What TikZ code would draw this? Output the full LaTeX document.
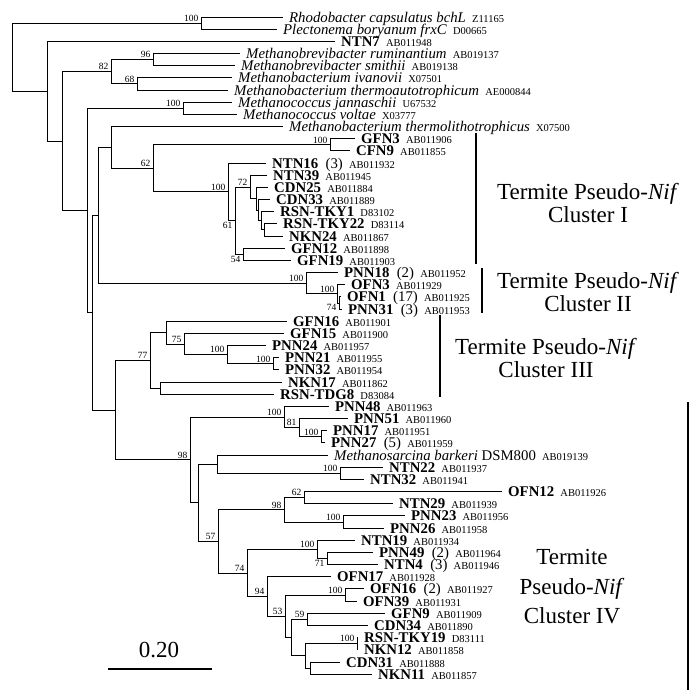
\documentclass[tikz,border=0pt]{standalone}
\usepackage{fontspec}
\setmainfont{Liberation Serif}
\usepackage{tikz}

\newcommand{\acc}[1]{\hspace{0.42em}{\fontsize{10.5}{11}\selectfont#1}}
\newcommand{\copies}[1]{\hspace{0.5em}(#1)}

\begin{document}
\begin{tikzpicture}[x=1pt, y=-1pt,
  branch/.style={line width=1pt},
  leaf/.style={anchor=west, inner xsep=6pt, inner ysep=0pt, text height=10pt, text depth=0pt, font=\fontsize{14.8}{15}\selectfont},
  boot/.style={anchor=south east, inner xsep=2.5pt, inner ysep=1.5pt, font=\fontsize{9.5}{10}\selectfont},
  bootlow/.style={boot, anchor=north east},
  clusterbar/.style={line width=2.6pt},
  cluster/.style={align=center, inner sep=0pt, font=\fontsize{23}{23}\selectfont}
]
\useasboundingbox (0,0) rectangle (697,694);

% leaves
\node[leaf] (rhodo) at (283,17.00) {\textit{Rhodobacter capsulatus bchL}\acc{Z11165}};
\node[leaf] (plect) at (277,29.17) {\textit{Plectonema boryanum frxC}\acc{D00665}};
\node[leaf] (ntn7) at (335,41.34) {\textbf{NTN7}\acc{AB011948}};
\node[leaf] (mbrum) at (240,53.51) {\textit{Methanobrevibacter ruminantium}\acc{AB019137}};
\node[leaf] (mbsmi) at (235,65.68) {\textit{Methanobrevibacter smithii}\acc{AB019138}};
\node[leaf] (mbiva) at (232,77.85) {\textit{Methanobacterium ivanovii}\acc{X07501}};
\node[leaf] (mbtha) at (228,90.02) {\textit{Methanobacterium thermoautotrophicum}\acc{AE000844}};
\node[leaf] (mcjan) at (232,102.19) {\textit{Methanococcus jannaschii}\acc{U67532}};
\node[leaf] (mcvol) at (237,114.36) {\textit{Methanococcus voltae}\acc{X03777}};
\node[leaf] (mbthl) at (283,126.53) {\textit{Methanobacterium thermolithotrophicus}\acc{X07500}};
\node[leaf] (gfn3) at (355,138.70) {\textbf{GFN3}\acc{AB011906}};
\node[leaf] (cfn9) at (350,150.87) {\textbf{CFN9}\acc{AB011855}};
\node[leaf] (ntn16) at (266,163.04) {\textbf{NTN16}\copies{3}\acc{AB011932}};
\node[leaf] (ntn39) at (267,175.21) {\textbf{NTN39}\acc{AB011945}};
\node[leaf] (cdn25) at (268,187.38) {\textbf{CDN25}\acc{AB011884}};
\node[leaf] (cdn33) at (270,199.55) {\textbf{CDN33}\acc{AB011889}};
\node[leaf] (tky1) at (274,211.72) {\textbf{RSN-TKY1}\acc{D83102}};
\node[leaf] (tky22) at (277,223.89) {\textbf{RSN-TKY22}\acc{D83114}};
\node[leaf] (nkn24) at (283,236.06) {\textbf{NKN24}\acc{AB011867}};
\node[leaf] (gfn12) at (285,248.23) {\textbf{GFN12}\acc{AB011898}};
\node[leaf] (gfn19) at (291,260.40) {\textbf{GFN19}\acc{AB011903}};
\node[leaf] (pnn18) at (338,272.57) {\textbf{PNN18}\copies{2}\acc{AB011952}};
\node[leaf] (ofn3) at (345,284.74) {\textbf{OFN3}\acc{AB011929}};
\node[leaf] (ofn1) at (341,296.91) {\textbf{OFN1}\copies{17}\acc{AB011925}};
\node[leaf] (pnn31) at (342,309.08) {\textbf{PNN31}\copies{3}\acc{AB011953}};
\node[leaf] (gfn16) at (287,321.25) {\textbf{GFN16}\acc{AB011901}};
\node[leaf] (gfn15) at (284,333.42) {\textbf{GFN15}\acc{AB011900}};
\node[leaf] (pnn24) at (266,345.59) {\textbf{PNN24}\acc{AB011957}};
\node[leaf] (pnn21) at (279,357.76) {\textbf{PNN21}\acc{AB011955}};
\node[leaf] (pnn32) at (279,369.93) {\textbf{PNN32}\acc{AB011954}};
\node[leaf] (nkn17) at (282,382.10) {\textbf{NKN17}\acc{AB011862}};
\node[leaf] (tdg8) at (274,394.27) {\textbf{RSN-TDG8}\acc{D83084}};
\node[leaf] (pnn48) at (329,406.44) {\textbf{PNN48}\acc{AB011963}};
\node[leaf] (pnn51) at (348,418.61) {\textbf{PNN51}\acc{AB011960}};
\node[leaf] (pnn17) at (327,430.78) {\textbf{PNN17}\acc{AB011951}};
\node[leaf] (pnn27) at (325,442.95) {\textbf{PNN27}\copies{5}\acc{AB011959}};
\node[leaf] (msbar) at (328,455.12) {\textit{Methanosarcina barkeri} DSM800\acc{AB019139}};
\node[leaf] (ntn22) at (383,467.29) {\textbf{NTN22}\acc{AB011937}};
\node[leaf] (ntn32) at (364,479.46) {\textbf{NTN32}\acc{AB011941}};
\node[leaf] (ofn12) at (502,491.63) {\textbf{OFN12}\acc{AB011926}};
\node[leaf] (ntn29) at (393,503.80) {\textbf{NTN29}\acc{AB011939}};
\node[leaf] (pnn23) at (405,515.97) {\textbf{PNN23}\acc{AB011956}};
\node[leaf] (pnn26) at (384,528.14) {\textbf{PNN26}\acc{AB011958}};
\node[leaf] (ntn19) at (355,540.31) {\textbf{NTN19}\acc{AB011934}};
\node[leaf] (pnn49) at (373,552.48) {\textbf{PNN49}\copies{2}\acc{AB011964}};
\node[leaf] (ntn4) at (378,564.65) {\textbf{NTN4}\copies{3}\acc{AB011946}};
\node[leaf] (ofn17) at (331,576.82) {\textbf{OFN17}\acc{AB011928}};
\node[leaf] (ofn16) at (364,588.99) {\textbf{OFN16}\copies{2}\acc{AB011927}};
\node[leaf] (ofn39) at (357,601.16) {\textbf{OFN39}\acc{AB011931}};
\node[leaf] (gfn9) at (385,613.33) {\textbf{GFN9}\acc{AB011909}};
\node[leaf] (cdn34) at (368,625.50) {\textbf{CDN34}\acc{AB011890}};
\node[leaf] (tky19) at (358,637.67) {\textbf{RSN-TKY19}\acc{D83111}};
\node[leaf] (nkn12) at (358,649.84) {\textbf{NKN12}\acc{AB011858}};
\node[leaf] (cdn31) at (340,662.01) {\textbf{CDN31}\acc{AB011888}};
\node[leaf] (nkn11) at (372,674.18) {\textbf{NKN11}\acc{AB011857}};

% inner nodes
\coordinate (nR) at (12,57.17);
\coordinate (nA) at (201,23.09);
\coordinate (nB) at (47,91.25);
\coordinate (nC) at (62,141.15);
\coordinate (n82) at (111,71.77);
\coordinate (n96) at (153,59.60);
\coordinate (n68) at (137,83.94);
\coordinate (nD) at (87,210.52);
\coordinate (nMc) at (183,108.28);
\coordinate (nE) at (92,312.77);
\coordinate (nF) at (98,215.33);
\coordinate (nG) at (111,147.43);
\coordinate (n62) at (153,168.32);
\coordinate (nGC) at (330,144.79);
\coordinate (nB100) at (228,191.85);
\coordinate (n61) at (235,220.66);
\coordinate (n72) at (250,187.00);
\coordinate (na) at (256,198.79);
\coordinate (nb) at (258,210.20);
\coordinate (nc) at (261,220.85);
\coordinate (nd) at (264,229.98);
\coordinate (n54) at (243,254.32);
\coordinate (nH) at (306,283.22);
\coordinate (nI) at (337,293.87);
\coordinate (n74a) at (339,303.00);
\coordinate (nK) at (115,410.20);
\coordinate (n77) at (150,360.42);
\coordinate (nGF) at (166,332.66);
\coordinate (n75) at (184,344.07);
\coordinate (nP24) at (227,354.72);
\coordinate (nP21) at (273,363.85);
\coordinate (nNR) at (160,388.19);
\coordinate (n98a) at (190,459.98);
\coordinate (n100p) at (284,417.09);
\coordinate (n81) at (299,427.74);
\coordinate (n100q) at (321,436.87);
\coordinate (nQ) at (198,502.86);
\coordinate (nMb) at (217,464.25);
\coordinate (n100n) at (340,473.38);
\coordinate (n57) at (218,541.46);
\coordinate (n98b) at (284,509.89);
\coordinate (n62b) at (304,497.72);
\coordinate (n100r) at (343,522.06);
\coordinate (n74b) at (247,573.02);
\coordinate (n100s) at (317,549.44);
\coordinate (n71) at (327,558.57);
\coordinate (n94) at (267,596.60);
\coordinate (n53) at (285,616.38);
\coordinate (n100t) at (345,595.08);
\coordinate (nZ) at (291,637.68);
\coordinate (n59) at (307,619.42);
\coordinate (nY) at (305,655.93);
\coordinate (n100u) at (357,643.76);
\coordinate (nW) at (310,668.10);

% branches
\draw[branch] (nR) |- (nA) (nR) |- (nB);
\draw[branch] (nA) |- (rhodo.west) (nA) |- (plect.west);
\draw[branch] (nB) |- (ntn7.west) (nB) |- (nC);
\draw[branch] (nC) |- (n82) (nC) |- (nD);
\draw[branch] (n82) |- (n96) (n82) |- (n68);
\draw[branch] (n96) |- (mbrum.west) (n96) |- (mbsmi.west);
\draw[branch] (n68) |- (mbiva.west) (n68) |- (mbtha.west);
\draw[branch] (nD) |- (nMc) (nD) |- (nE);
\draw[branch] (nMc) |- (mcjan.west) (nMc) |- (mcvol.west);
\draw[branch] (nE) |- (nF) (nE) |- (nK);
\draw[branch] (nF) |- (nG) (nF) |- (nH);
\draw[branch] (nG) |- (mbthl.west) (nG) |- (n62);
\draw[branch] (n62) |- (nGC) (n62) |- (nB100);
\draw[branch] (nGC) |- (gfn3.west) (nGC) |- (cfn9.west);
\draw[branch] (nB100) |- (ntn16.west) (nB100) |- (n61);
\draw[branch] (n61) |- (n72) (n61) |- (n54);
\draw[branch] (n72) |- (ntn39.west) (n72) |- (na);
\draw[branch] (na) |- (cdn25.west) (na) |- (nb);
\draw[branch] (nb) |- (cdn33.west) (nb) |- (nc);
\draw[branch] (nc) |- (tky1.west) (nc) |- (nd);
\draw[branch] (nd) |- (tky22.west) (nd) |- (nkn24.west);
\draw[branch] (n54) |- (gfn12.west) (n54) |- (gfn19.west);
\draw[branch] (nH) |- (pnn18.west) (nH) |- (nI);
\draw[branch] (nI) |- (ofn3.west) (nI) |- (n74a);
\draw[branch] (n74a) |- (ofn1.west) (n74a) |- (pnn31.west);
\draw[branch] (nK) |- (n77) (nK) |- (n98a);
\draw[branch] (n77) |- (nGF) (n77) |- (nNR);
\draw[branch] (nGF) |- (gfn16.west) (nGF) |- (n75);
\draw[branch] (n75) |- (gfn15.west) (n75) |- (nP24);
\draw[branch] (nP24) |- (pnn24.west) (nP24) |- (nP21);
\draw[branch] (nP21) |- (pnn21.west) (nP21) |- (pnn32.west);
\draw[branch] (nNR) |- (nkn17.west) (nNR) |- (tdg8.west);
\draw[branch] (n98a) |- (n100p) (n98a) |- (nQ);
\draw[branch] (n100p) |- (pnn48.west) (n100p) |- (n81);
\draw[branch] (n81) |- (pnn51.west) (n81) |- (n100q);
\draw[branch] (n100q) |- (pnn17.west) (n100q) |- (pnn27.west);
\draw[branch] (nQ) |- (nMb) (nQ) |- (n57);
\draw[branch] (nMb) |- (msbar.west) (nMb) |- (n100n);
\draw[branch] (n100n) |- (ntn22.west) (n100n) |- (ntn32.west);
\draw[branch] (n57) |- (n98b) (n57) |- (n74b);
\draw[branch] (n98b) |- (n62b) (n98b) |- (n100r);
\draw[branch] (n62b) |- (ofn12.west) (n62b) |- (ntn29.west);
\draw[branch] (n100r) |- (pnn23.west) (n100r) |- (pnn26.west);
\draw[branch] (n74b) |- (n100s) (n74b) |- (n94);
\draw[branch] (n100s) |- (ntn19.west) (n100s) |- (n71);
\draw[branch] (n71) |- (pnn49.west) (n71) |- (ntn4.west);
\draw[branch] (n94) |- (ofn17.west) (n94) |- (n53);
\draw[branch] (n53) |- (n100t) (n53) |- (nZ);
\draw[branch] (n100t) |- (ofn16.west) (n100t) |- (ofn39.west);
\draw[branch] (nZ) |- (n59) (nZ) |- (nY);
\draw[branch] (n59) |- (gfn9.west) (n59) |- (cdn34.west);
\draw[branch] (nY) |- (n100u) (nY) |- (nW);
\draw[branch] (n100u) |- (tky19.west) (n100u) |- (nkn12.west);
\draw[branch] (nW) |- (cdn31.west) (nW) |- (nkn11.west);

% bootstrap values
\node[boot] (bA) at (nA) {100};
\node[boot] (b96) at (n96) {96};
\node[boot] (b82) at (n82) {82};
\node[boot] (b68) at (n68) {68};
\node[boot] (bMc) at (nMc) {100};
\node[boot] (bGC) at (nGC) {100};
\node[boot] (b62) at (n62) {62};
\node[boot] (bB100) at (nB100) {100};
\node[boot] (b72) at (n72) {72};
\node[bootlow] (b61) at (n61) {61};
\node[bootlow] (b54) at (n54) {54};
\node[boot] (bH) at (nH) {100};
\node[boot] (bI) at (nI) {100};
\node[bootlow] (b74a) at (n74a) {74};
\node[boot] (b77) at (n77) {77};
\node[boot] (b75) at (n75) {75};
\node[boot] (bP24) at (nP24) {100};
\node[boot] (bP21) at (nP21) {100};
\node[boot] (b98a) at (n98a) {98};
\node[boot] (b100p) at (n100p) {100};
\node[boot] (b81) at (n81) {81};
\node[boot] (b100q) at (n100q) {100};
\node[boot] (b100n) at (n100n) {100};
\node[boot] (b57) at (n57) {57};
\node[boot] (b98b) at (n98b) {98};
\node[boot] (b62b) at (n62b) {62};
\node[boot] (b100r) at (n100r) {100};
\node[boot] (b74b) at (n74b) {74};
\node[boot] (b100s) at (n100s) {100};
\node[bootlow] (b71) at (n71) {71};
\node[boot] (b94) at (n94) {94};
\node[boot] (b53) at (n53) {53};
\node[boot] (b100t) at (n100t) {100};
\node[boot] (b59) at (n59) {59};
\node[boot] (b100u) at (n100u) {100};

% clusters
\draw[clusterbar] (476,133) -- (476,264);
\draw[clusterbar] (482,268) -- (482,313);
\draw[clusterbar] (440,315) -- (440,397);
\draw[clusterbar] (688,402) -- (688,690);
\node[cluster] (clI) at (588,203) {Termite Pseudo-\textit{Nif}\\Cluster I};
\node[cluster] (clII) at (588,292) {Termite Pseudo-\textit{Nif}\\Cluster II};
\node[cluster] (clIII) at (546,358) {Termite Pseudo-\textit{Nif}\\Cluster III};
\node[cluster, font=\fontsize{23}{29.5}\selectfont] (clIV) at (572,587) {Termite\\Pseudo-\textit{Nif}\\Cluster IV};

% scale bar
\coordinate (sb1) at (108,669);
\coordinate (sb2) at (212,669);
\draw[clusterbar] (sb1) -- (sb2);
\node[font=\fontsize{23}{23}\selectfont] (sbl) at (159,650) {0.20};
\end{tikzpicture}
\end{document}
